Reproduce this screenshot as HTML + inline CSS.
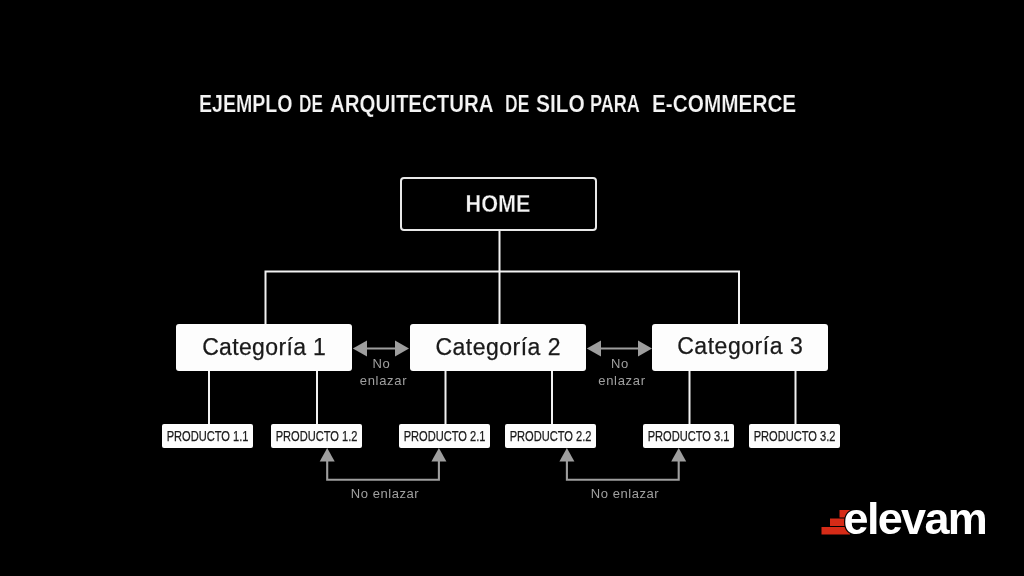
<!DOCTYPE html>
<html><head><meta charset="utf-8">
<style>
html,body{margin:0;padding:0;background:#000;}
body{width:1024px;height:576px;position:relative;overflow:hidden;font-family:"Liberation Sans",sans-serif;}
.abs{position:absolute;}
#title span{-webkit-text-stroke:0.200px #000;position:absolute;top:91px;font-weight:bold;font-size:23px;line-height:26px;color:#f4f4f4;white-space:nowrap;transform-origin:0 50%;}
.box{position:absolute;background:#fdfdfd;border-radius:3px;color:#1a1a1a;white-space:nowrap;display:flex;justify-content:center;}
.cat{top:324px;height:46.5px;width:176px;font-size:23px;line-height:46.5px;-webkit-text-stroke:0.25px #1a1a1a;}
.cat span{display:inline-block;}
.prod{top:424px;height:24.25px;width:91px;font-size:14px;line-height:24.500px;border-radius:2px;-webkit-text-stroke:0.250px #1a1a1a;}
.prod span{display:inline-block;transform:scaleX(0.793);}
#home{left:399.500px;top:177px;width:193.500px;height:50px;border:2px solid #e8e8e8;border-radius:4px;color:#f4f4f4;font-weight:bold;font-size:24px;line-height:49px;text-align:center;}
#home span{display:inline-block;transform:scaleX(0.9);-webkit-text-stroke:0.3px #000;position:relative;left:-0.4px;}
.lbl{position:absolute;color:#a0a0a0;font-size:13px;line-height:16.500px;text-align:center;white-space:nowrap;letter-spacing:0.550px;}
svg{position:absolute;left:0;top:0;}
#logo{left:843.5px;top:494px;font-weight:bold;font-size:45px;line-height:50px;color:#fff;letter-spacing:-1.65px;white-space:nowrap;-webkit-text-stroke:2.5px #000;paint-order:stroke fill;}
.en{position:relative;left:2.2px;letter-spacing:0.7px;}
#wrap{position:absolute;left:0;top:0;width:1024px;height:576px;will-change:transform;}
</style></head><body>
<svg width="1024" height="576" viewBox="0 0 1024 576">
<g stroke="#f2f2f2" stroke-width="2" fill="none">
<path d="M499.500 229V324"/>
<path d="M265.500 324V271.500H739V324"/>
<path d="M209 370V425"/><path d="M317 370V425"/>
<path d="M445.500 370V425"/><path d="M552 370V425"/>
<path d="M689.500 370V425"/><path d="M795.500 370V425"/>
</g>
<g stroke="#9e9e9e" stroke-width="2.1" fill="none">
<path d="M364 348.500H398"/>
<path d="M598 348.500H641"/>
<path d="M327.200 460V479.800H438.900V460"/>
<path d="M566.900 460V479.800H678.700V460"/>
</g>
<g fill="#9e9e9e">
<path d="M352.8 348.5L367 340.5V356.5Z"/><path d="M409 348.5L395 340.5V356.5Z"/>
<path d="M586.8 348.5L601 340.5V356.5Z"/><path d="M652 348.5L638 340.5V356.5Z"/>
<path d="M327.200 448L319.700 461.500H334.700Z"/><path d="M438.900 448L431.400 461.500H446.400Z"/>
<path d="M566.900 448L559.400 461.500H574.400Z"/><path d="M678.700 448L671.200 461.500H686.200Z"/>
</g>
<g fill="#d62b17">
<rect x="839.500" y="510" width="12" height="7.500"/>
<rect x="830" y="518.500" width="20" height="7.500"/>
<rect x="821.5" y="527" width="28.5" height="7.5"/>
</g>
</svg>
<div id="wrap">
<div id="title"><span style="left:198.9px;transform:scaleX(0.851)">EJEMPLO</span><span style="left:299.4px;transform:scaleX(0.749)">DE</span><span style="left:330.4px;transform:scaleX(0.889)">ARQUITECTURA</span><span style="left:504.6px;transform:scaleX(0.761)">DE</span><span style="left:535.5px;transform:scaleX(0.911)">SILO</span><span style="left:590.2px;transform:scaleX(0.786)">PARA</span><span style="left:651.5px;transform:scaleX(0.903)">E-COMMERCE</span></div>
<div id="home" class="abs"><span>HOME</span></div>
<div class="box cat" style="left:176px"><span style="letter-spacing:0.35px;margin-right:-0.35px">Categoría 1</span></div>
<div class="box cat" style="left:410px"><span style="letter-spacing:0.485px;margin-right:-0.485px">Categoría 2</span></div>
<div class="box cat" style="left:652px;line-height:44.5px"><span style="letter-spacing:0.55px;margin-right:-0.55px">Categoría 3</span></div>
<div class="box prod" style="left:162px"><span>PRODUCTO 1.1</span></div>
<div class="box prod" style="left:271px"><span>PRODUCTO 1.2</span></div>
<div class="box prod" style="left:399px"><span>PRODUCTO 2.1</span></div>
<div class="box prod" style="left:505px"><span>PRODUCTO 2.2</span></div>
<div class="box prod" style="left:643px"><span>PRODUCTO 3.1</span></div>
<div class="box prod" style="left:749px"><span>PRODUCTO 3.2</span></div>
<div class="lbl" style="left:351.3px;width:60px;top:356px">No<br><span class="en">enlazar</span></div>
<div class="lbl" style="left:589.8px;width:60px;top:356px">No<br><span class="en">enlazar</span></div>
<div class="lbl" style="left:345px;width:80px;top:486px">No enlazar</div>
<div class="lbl" style="left:585px;width:80px;top:486px">No enlazar</div>
<div id="logo" class="abs">elevam</div>
</div>
</body></html>
